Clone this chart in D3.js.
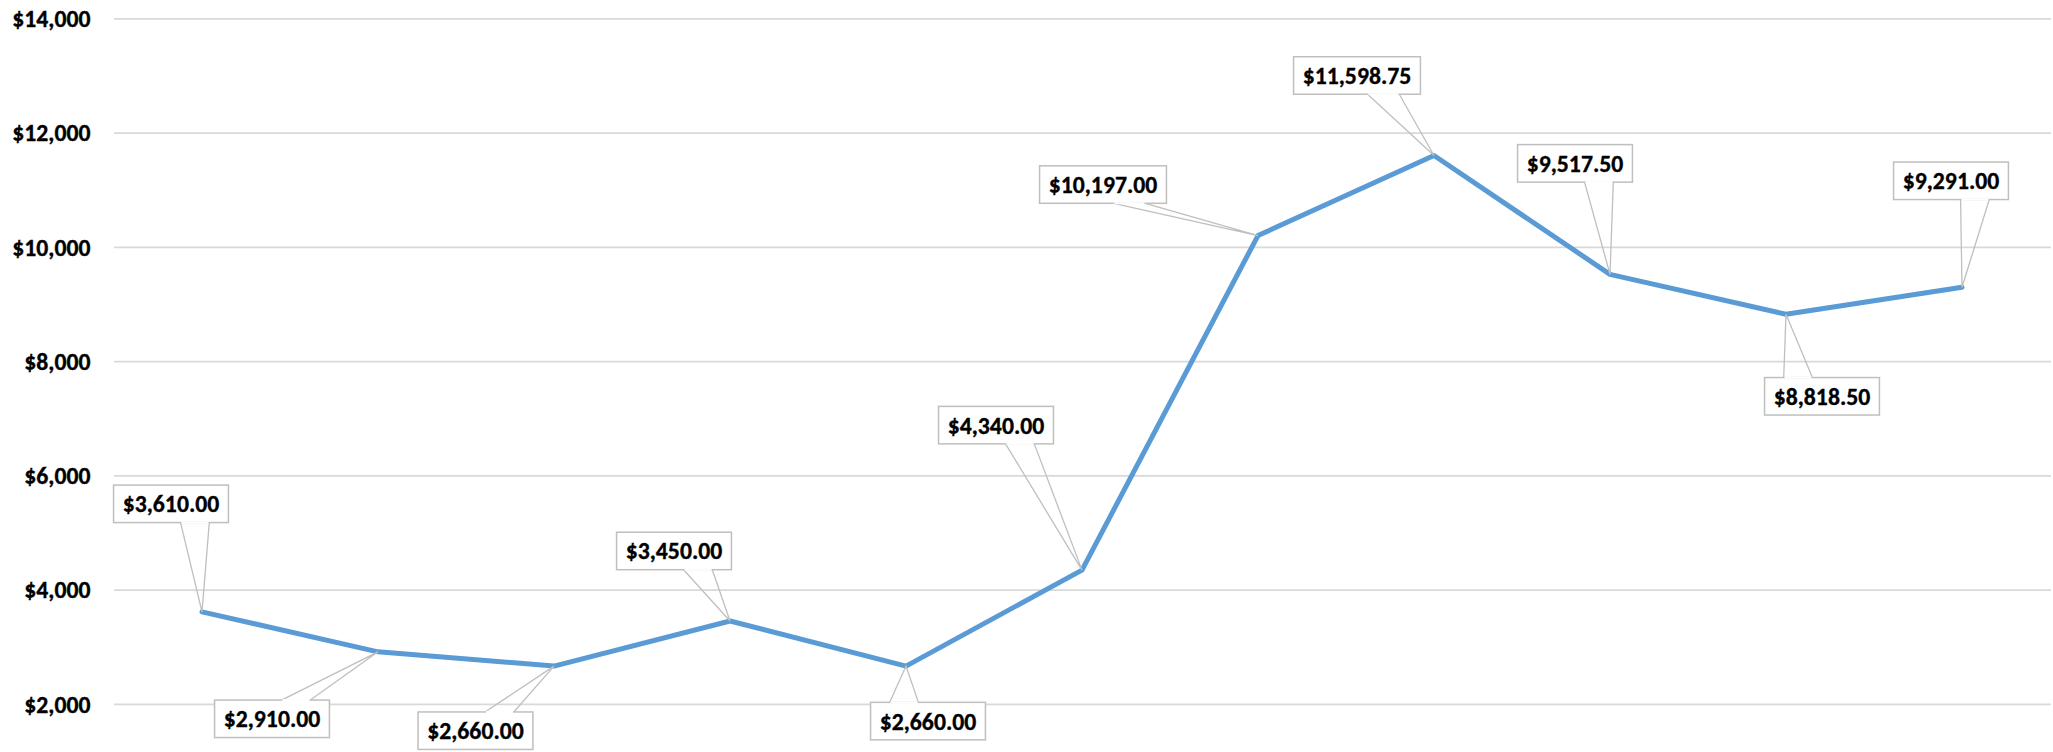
<!DOCTYPE html>
<html>
<head>
<meta charset="utf-8">
<script src="https://cdn.jsdelivr.net/npm/d3@7"></script>
<style>
  html, body { margin: 0; padding: 0; background: #ffffff; }
  svg { display: block; }
</style>
</head>
<body>
<svg id="chart" width="2053" height="752"></svg>
<script>
// ---- data ----
const categories = ["1", "2", "3", "4", "5", "6", "7", "8", "9", "10", "11"];
const values = [3610, 2910, 2660, 3450, 2660, 4340, 10197, 11598.75, 9517.5, 8818.5, 9291];
const yTicks = [2000, 4000, 6000, 8000, 10000, 12000, 14000];

// ---- layout (pixel offsets of each data-label box centre from its point) ----
const labelOffsets = [
  [-31, -108], [-106, 67], [-78.5, 64.6], [-56, -70], [22, 55], [-86, -145],
  [-155, -51], [-77, -80], [-35, -111], [36, 82], [-11, -106.5]
];

const W = 2053, H = 752;
const plotLeft = 114, plotRight = 2051, plotTop = 18.3, plotBottom = 703.8;
const font = "Calibri, Carlito, Lato, 'Open Sans', sans-serif";

const svg = d3.select("#chart");

// calibrate font size so that "$3,610.00" is about 96.5px wide (as in the reference)
const probe = svg.append("text")
  .attr("font-family", font).attr("font-weight", "bold").attr("font-size", 100)
  .text("$3,610.00");
const probeW = probe.node().getComputedTextLength();
probe.remove();
const fontSize = Math.max(16, Math.min(28, 100 * 96.5 / probeW));

const x = d3.scaleBand().domain(categories).range([plotLeft, plotLeft + 176 * categories.length]);
const y = d3.scaleLinear().domain([2000, 14000]).range([plotBottom, plotTop]);
const cx = c => x(c) + x.bandwidth() / 2;

// gridlines + y axis labels
const yAxis = d3.axisLeft(y)
  .tickValues(yTicks)
  .tickSize(-(plotRight - plotLeft))
  .tickPadding(23.5)
  .tickFormat(d => "$" + d3.format(",")(d));

const gy = svg.append("g")
  .attr("transform", `translate(${plotLeft},0)`)
  .call(yAxis);
gy.select(".domain").remove();
gy.selectAll(".tick line").attr("stroke", "#d9d9d9").attr("stroke-width", 1.8);
gy.selectAll(".tick text")
  .attr("fill", "#000")
  .attr("stroke", "#000")
  .attr("stroke-width", 0.35)
  .attr("font-family", font)
  .attr("font-weight", "bold")
  .attr("font-size", fontSize)
  .attr("dy", "0.35em");

// line
const pts = categories.map((c, i) => ({ c, v: values[i], px: cx(c), py: y(values[i]), off: labelOffsets[i] }));

svg.append("path")
  .datum(pts)
  .attr("fill", "none")
  .attr("stroke", "#5b9bd5")
  .attr("stroke-width", 5)
  .attr("stroke-linejoin", "round")
  .attr("stroke-linecap", "round")
  .attr("d", d3.line().x(d => d.px).y(d => d.py));

// data label callouts
const fmt = d => "$" + d3.format(",.2f")(d);
const boxH = 37.5, padX = 9.2;

const lg = svg.append("g");
pts.forEach(d => {
  const bx = d.px + d.off[0], by = d.py + d.off[1];
  const g = lg.append("g");
  const t = g.append("text")
    .attr("x", bx).attr("y", by)
    .attr("text-anchor", "middle")
    .attr("dy", "0.36em")
    .attr("font-family", font)
    .attr("font-weight", "bold")
    .attr("font-size", fontSize)
    .attr("fill", "#000")
    .attr("stroke", "#000")
    .attr("stroke-width", 0.35)
    .text(fmt(d.v));
  const tw = t.node().getComputedTextLength();
  const bw = tw + 2 * padX;
  const left = bx - bw / 2, top = by - boxH / 2;
  const sign = d.px >= bx ? 1 : -1;
  const edgeY = d.py > by ? top + boxH : top;
  const b1 = bx + sign * bw / 12, b2 = bx + sign * bw / 3;
  // wedge
  g.insert("path", "text")
    .attr("d", `M${b1},${edgeY} L${d.px},${d.py} L${b2},${edgeY}`)
    .attr("fill", "none")
    .attr("stroke", "#bfbfbf")
    .attr("stroke-width", 1.3);
  // box
  g.insert("rect", "text")
    .attr("x", left).attr("y", top)
    .attr("width", bw).attr("height", boxH)
    .attr("fill", "#fff")
    .attr("stroke", "#bfbfbf")
    .attr("stroke-width", 1.5);
  // open the box edge where the wedge attaches
  g.insert("line", "text")
    .attr("x1", Math.min(b1, b2) + 0.8).attr("x2", Math.max(b1, b2) - 0.8)
    .attr("y1", edgeY).attr("y2", edgeY)
    .attr("stroke", "#fff").attr("stroke-width", 2);
});
</script>
</body>
</html>
